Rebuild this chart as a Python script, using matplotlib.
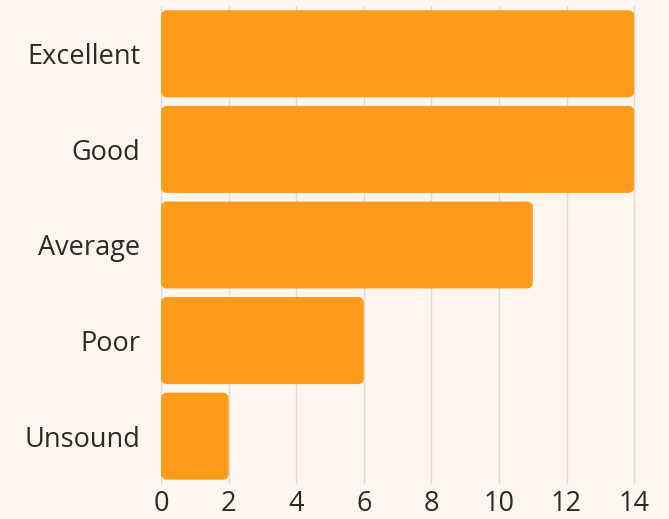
import matplotlib.pyplot as plt
from matplotlib.patches import FancyBboxPatch

categories = ['Excellent', 'Good', 'Average', 'Poor', 'Unsound']
counts = [14, 14, 11, 6, 2]
ticks = [0, 2, 4, 6, 8, 10, 12, 14]

bg = '#fdf6ee'
bar_color = '#fd9c1b'

plt.rcParams['font.family'] = ['Open Sans', 'DejaVu Sans']

fig = plt.figure(figsize=(6.69, 5.19), dpi=100, facecolor=bg)
ax = fig.add_axes([161 / 669, 35 / 519, 480 / 669, 478 / 519])
ax.set_facecolor(bg)

ypos = list(range(len(categories)))
bars = ax.barh(ypos, counts, height=0.91, color=bar_color)

# swap plain bars for slightly rounded ones
x_px = 480 / 14.2
y_px = 478 / 5
for b in bars:
    b.set_visible(False)
    r = FancyBboxPatch((b.get_x(), b.get_y()), b.get_width(), b.get_height(),
                       boxstyle='round,pad=0,rounding_size=%f' % (6 / x_px),
                       mutation_aspect=x_px / y_px,
                       facecolor=bar_color, edgecolor='none', zorder=3)
    ax.add_patch(r)

ax.set_xlim(0, 14.2)
ax.set_ylim(len(categories) - 0.5, -0.5)
ax.set_yticks(ypos)
ax.set_yticklabels(categories)
ax.set_xticks(ticks)

ax.grid(axis='x', color='#dedad4', linewidth=1, zorder=0)
ax.set_axisbelow(True)
for s in ['top', 'right', 'bottom']:
    ax.spines[s].set_visible(False)
ax.spines['left'].set_color('#dedad4')
ax.tick_params(length=0, labelsize=19.5, colors='#2a2a2a')
ax.tick_params(axis='y', pad=15)
ax.tick_params(axis='x', pad=4)

fig.savefig('out.png', dpi=100, facecolor=bg)
